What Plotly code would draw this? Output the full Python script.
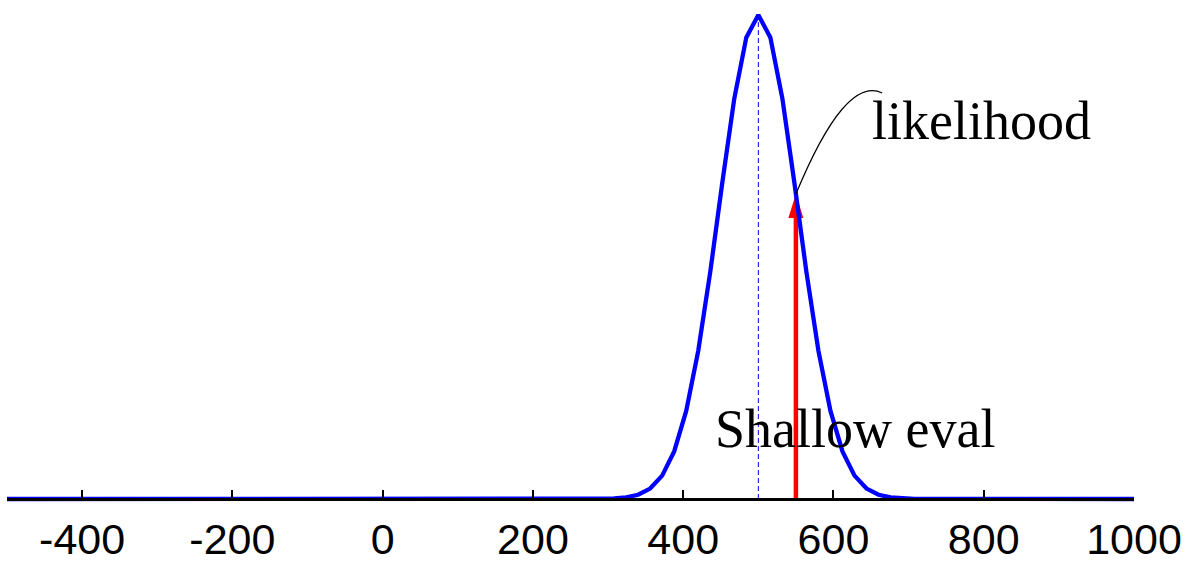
import plotly.graph_objects as go

# Likelihood curve (peak normalised to 1) sampled around the mean
curve_x = [-500, 292, 308, 324, 340, 356, 372, 388, 404, 420, 436, 452, 468, 484,
           500, 516, 532, 548, 564, 580, 596, 612, 628, 644, 660, 676, 692, 708, 1000]
curve_y = [0.0, 0.0003, 0.0011, 0.0033, 0.0088, 0.0216, 0.0483, 0.0983, 0.1819,
           0.3062, 0.4689, 0.6531, 0.8275, 0.9538,
           1.0, 0.9538, 0.8275, 0.6531, 0.4689, 0.3062, 0.1819, 0.0983, 0.0483,
           0.0216, 0.0088, 0.0033, 0.0011, 0.0003, 0.0]

mean_x = 500
peak_y = 1.0
eval_x = 550          # shallow evaluation
eval_lik = 0.63       # likelihood at the evaluation point

tick_vals = [-400, -200, 0, 200, 400, 600, 800, 1000]
tick_text = ["-400", "-200", "0", "200", "400", "600", "800", "1000"]

W, H = 1202, 566
px_per_unit_y = 484.0
y_bottom_px = 67.0  # distance of the baseline from the bottom edge
y_lo = -y_bottom_px / px_per_unit_y
y_hi = (H - y_bottom_px) / px_per_unit_y
head_len_px = 24

fig = go.Figure()

# red evaluation arrow shaft (stops at the arrowhead base)
fig.add_trace(go.Scatter(
    x=[eval_x, eval_x], y=[0, eval_lik - head_len_px / px_per_unit_y],
    mode="lines", line=dict(color="#ff0000", width=4.5), hoverinfo="skip"))

# dashed mean line
fig.add_trace(go.Scatter(
    x=[mean_x, mean_x], y=[0, peak_y], mode="lines",
    line=dict(color="#0000ff", width=1, dash="5px,3px"), hoverinfo="skip"))

# likelihood curve
fig.add_trace(go.Scatter(
    x=curve_x, y=curve_y, mode="lines",
    line=dict(color="#0000ff", width=4.3), hoverinfo="skip"))

shapes = [
    # arrowhead, pixel-sized, anchored at the likelihood point
    dict(type="path", xref="x", yref="y", xsizemode="pixel", ysizemode="pixel",
         xanchor=eval_x, yanchor=eval_lik,
         path=f"M0,0 L-7.5,-{head_len_px} L7.5,-{head_len_px} Z",
         fillcolor="#ff0000", line=dict(width=0), layer="below"),
    # curved leader from the likelihood point to its label
    dict(type="path", xref="x", yref="y",
         path=(f"M {eval_x},{eval_lik} "
               f"Q {eval_x + 65.5},{eval_lik + 0.246} {eval_x + 114.8},{eval_lik + 0.209}"),
         line=dict(color="black", width=1.2), layer="above"),
]

annotations = [
    dict(x=648.6, y=0.781, xref="x", yref="y", text="likelihood", showarrow=False,
         xanchor="left", yanchor="middle",
         font=dict(family="Liberation Serif", size=54, color="black")),
    dict(x=439.7, y=0.1446, xref="x", yref="y", text="Shallow eval", showarrow=False,
         xanchor="left", yanchor="middle",
         font=dict(family="Liberation Serif", size=54, color="black")),
]

fig.update_layout(
    width=W, height=H,
    margin=dict(l=7, r=68, t=0, b=0, autoexpand=False),
    paper_bgcolor="white", plot_bgcolor="white",
    showlegend=False,
    shapes=shapes, annotations=annotations,
    xaxis=dict(
        range=[-500, 1000], anchor="free", position=y_bottom_px / H,
        automargin=False,
        showgrid=False, zeroline=False,
        showline=True, linecolor="black", linewidth=2.5,
        ticks="inside", ticklen=8, tickwidth=1.5, tickcolor="black",
        tickvals=tick_vals, ticktext=tick_text, ticklabelstandoff=2,
        tickfont=dict(family="Liberation Sans", size=43, color="black"),
        layer="above traces", fixedrange=True,
    ),
    yaxis=dict(
        range=[y_lo, y_hi], domain=[0, 1], visible=False, automargin=False,
        showgrid=False, zeroline=False, fixedrange=True,
    ),
)

fig.write_html("out.html")
